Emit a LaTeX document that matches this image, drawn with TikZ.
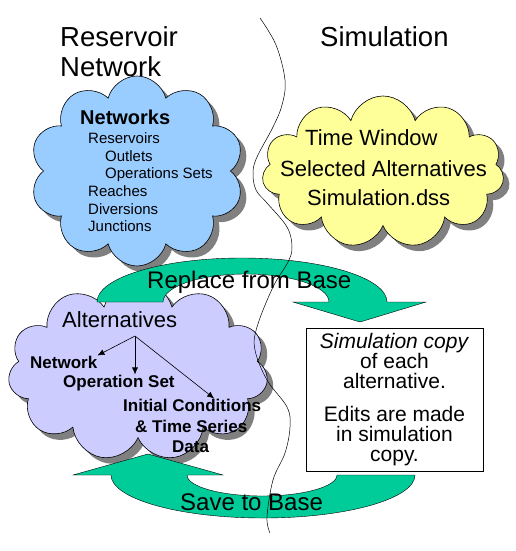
\documentclass[tikz,border=0pt]{standalone}
\usepackage{fontspec}
\setmainfont{Liberation Sans}
\usepackage{tikz}
\usetikzlibrary{shapes.symbols, shadows, arrows.meta, calc}
\definecolor{netBlue}{HTML}{99CCFF}
\definecolor{simYellow}{HTML}{FFFF99}
\definecolor{altLilac}{HTML}{CCCCFF}
\definecolor{baseGreen}{HTML}{00CC99}
\definecolor{shadowGray}{HTML}{808080}

\tikzset{
  puffcloud/.style={cloud, cloud puffs=#1, cloud ignores aspect, draw=black, line width=0.6pt,
    inner sep=0pt, drop shadow={shadow xshift=6pt, shadow yshift=-6pt, fill=shadowGray, opacity=1}},
  basearrow/.style={fill=baseGreen, draw=black, line width=0.4pt},
  txt/.style={anchor=base west, inner sep=0pt, font=\fontsize{#1}{#1}\selectfont},
  boldtxt/.style={anchor=base west, inner sep=0pt, font=\fontsize{#1}{#1}\selectfont\bfseries},
  pointer/.style={-{Latex[length=7pt, width=6pt]}, line width=0.6pt}
}

\begin{document}
\begin{tikzpicture}[x=1pt, y=-1pt]
    \useasboundingbox (0,0) rectangle (515,551);

    % ══════════════════════════════════════════════
    % ══ NUBES ══
    % ══════════════════════════════════════════════

    % Red del embalse
    \node[puffcloud=10, fill=netBlue, minimum width=214pt, minimum height=190pt] (netcloud) at (137,171) {};

    % Simulacion
    \node[puffcloud=11, fill=simYellow, minimum width=242pt, minimum height=152pt] (simcloud) at (383,172) {};

    % Alternativas
    \node[puffcloud=11, fill=altLilac, minimum width=260pt, minimum height=180pt] (altcloud) at (138,371) {};

    % ══════════════════════════════════════════════
    % ══ FLECHAS VERDES ══
    % ══════════════════════════════════════════════

    % Replace from Base (arriba, hacia la derecha)
    \path[basearrow] (97,302) arc (180:360:145 and 44) -- (426,302) -- (360,322) -- (293,302)
        -- (329,302) arc (360:180:83 and 28) -- cycle;
    \node[txt=24] (replace) at (147,288) {Replace from Base};

    % Save to Base (abajo, hacia la izquierda)
    \path[basearrow] (415,475) arc (0:180:152 and 43) -- (73,475) -- (148,454) -- (223,475)
        -- (187,475) arc (180:0:75 and 21) -- cycle;
    \node[txt=24] (save) at (180,510) {Save to Base};

    % ══════════════════════════════════════════════
    % ══ TEXTOS ══
    % ══════════════════════════════════════════════

    % Titulos
    \node[txt=27.5] (restitle) at (60,47) {Reservoir};
    \node[txt=27.5] (nettitle) at (60,76) {Network};
    \node[txt=27.5] (simtitle) at (320,47) {Simulation};

    % Contenido de la red
    \node[boldtxt=20] (networks) at (80,124) {Networks};
    \node[txt=15] (reservoirs) at (88,143) {Reservoirs};
    \node[txt=15] (outlets) at (105,161) {Outlets};
    \node[txt=15] (opsets) at (105,178) {Operations Sets};
    \node[txt=15] (reaches) at (88,196) {Reaches};
    \node[txt=15] (diversions) at (88,214) {Diversions};
    \node[txt=15] (junctions) at (88,231) {Junctions};

    % Contenido de la simulacion
    \node[txt=22] (timewin) at (305,145) {Time Window};
    \node[txt=22] (selalt) at (280,176) {Selected Alternatives};
    \node[txt=22] (dssfile) at (307,205) {Simulation.dss};

    % Contenido de las alternativas
    \node[txt=22] (alts) at (62,327) {Alternatives};
    \node[boldtxt=17] (altnet) at (30,368) {Network};
    \node[boldtxt=17] (altops) at (63,387) {Operation Set};
    \node[boldtxt=17] (initcond) at (123,411) {Initial Conditions};
    \node[boldtxt=17] (timeser) at (135,432) {\& Time Series};
    \node[boldtxt=17] (data) at (172,452) {Data};

    % Flechas dentro de Alternatives
    \coordinate (split) at (135,336);
    \draw[pointer] (split) -- (altnet.north east);
    \draw[pointer] (split) -- (split |- altops.north);
    \draw[pointer] (split) -- ($(initcond.north)+(22,0)$);

    % Copia de simulacion
    \node[draw=black, line width=0.6pt, fill=white, minimum width=177pt, minimum height=143pt,
        align=center, font=\fontsize{21}{20}\selectfont] (simcopy) at (394.5,399.5)
        {\textit{Simulation copy}\\of each\\alternative.\\[13pt]Edits are made\\in simulation\\copy.};

    % ══════════════════════════════════════════════
    % ══ LINEA DIVISORIA ══
    % ══════════════════════════════════════════════
    \draw[black, line width=0.5pt] plot[smooth, tension=0.6] coordinates {
        (260,18) (276,45) (285,80) (282,105) (273,127) (257,157) (253,173) (256,190)
        (267,203) (287,227) (292,247) (288,262) (273,287) (257,327) (255,350) (267,380)
        (287,407) (290,427) (285,453) (273,480) (267,517) (270,533)};

\end{tikzpicture}
\end{document}
